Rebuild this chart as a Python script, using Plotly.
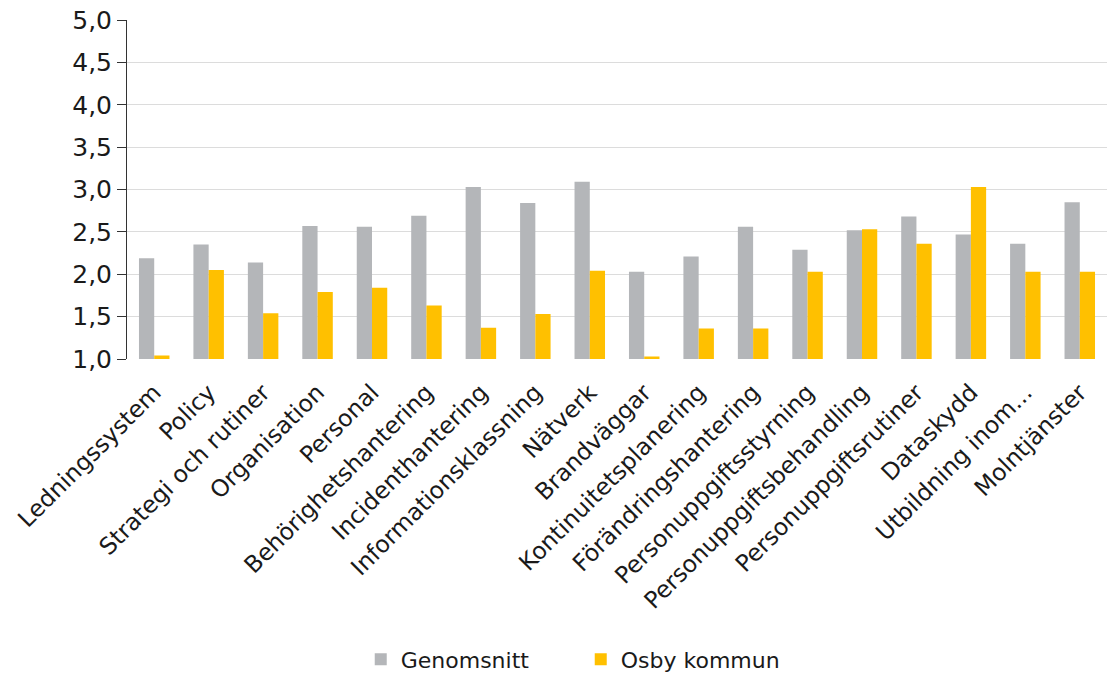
import plotly.graph_objects as go

# Areas assessed
categories = [
    "Ledningssystem", "Policy", "Strategi och rutiner", "Organisation",
    "Personal", "Behörighetshantering", "Incidenthantering",
    "Informationsklassning", "Nätverk", "Brandväggar",
    "Kontinuitetsplanering", "Förändringshantering",
    "Personuppgiftsstyrning", "Personuppgiftsbehandling",
    "Personuppgiftsrutiner", "Dataskydd", "Utbildning inom...",
    "Molntjänster",
]

# Average score across all municipalities
genomsnitt = [2.19, 2.35, 2.14, 2.57, 2.56, 2.69, 3.03, 2.84, 3.09,
              2.03, 2.21, 2.56, 2.29, 2.52, 2.68, 2.47, 2.36, 2.85]

# Osby kommun's own score
osby = [1.04, 2.05, 1.54, 1.79, 1.84, 1.63, 1.37, 1.53, 2.04,
        1.03, 1.36, 1.36, 2.03, 2.53, 2.36, 3.03, 2.03, 2.03]

y_ticks = [1.0, 1.5, 2.0, 2.5, 3.0, 3.5, 4.0, 4.5, 5.0]

GRAY = "#b4b6b9"
GOLD = "#ffc000"

fig = go.Figure()
fig.add_trace(go.Bar(name="Genomsnitt", x=categories, y=genomsnitt,
                     marker=dict(color=GRAY, line_width=0)))
fig.add_trace(go.Bar(name="Osby kommun", x=categories, y=osby,
                     marker=dict(color=GOLD, line_width=0)))

fig.update_layout(
    width=1111, height=684,
    margin=dict(l=127, r=4, t=20, b=322),
    paper_bgcolor="white", plot_bgcolor="white",
    barmode="group", bargap=0.44, bargroupgap=0.0,
    separators=", ",
    font=dict(family="DejaVu Sans", color="#1a1a1a"),
    legend=dict(orientation="h", x=0.463, xanchor="center", y=-0.886,
                yanchor="middle",
                font=dict(size=22, family="DejaVu Sans", color="#1a1a1a"),
                itemwidth=30, entrywidth=175, traceorder="normal"),
    showlegend=True,
)

fig.update_yaxes(
    range=[1.0, 5.0], tickvals=y_ticks, tickformat=".1f",
    showgrid=True, gridcolor="#dcdcdc", gridwidth=1,
    showline=True, linecolor="#333333", linewidth=1,
    ticks="outside", ticklen=9, tickcolor="#333333",
    tickfont=dict(size=25, family="DejaVu Sans", color="#1a1a1a"),
    zeroline=False, automargin=False,
)
fig.update_xaxes(
    tickangle=-45, tickfont=dict(size=23.5, family="DejaVu Sans"),
    showline=False, ticks="", automargin=False, ticklabelstandoff=14,
)

fig.write_html("out.html")
